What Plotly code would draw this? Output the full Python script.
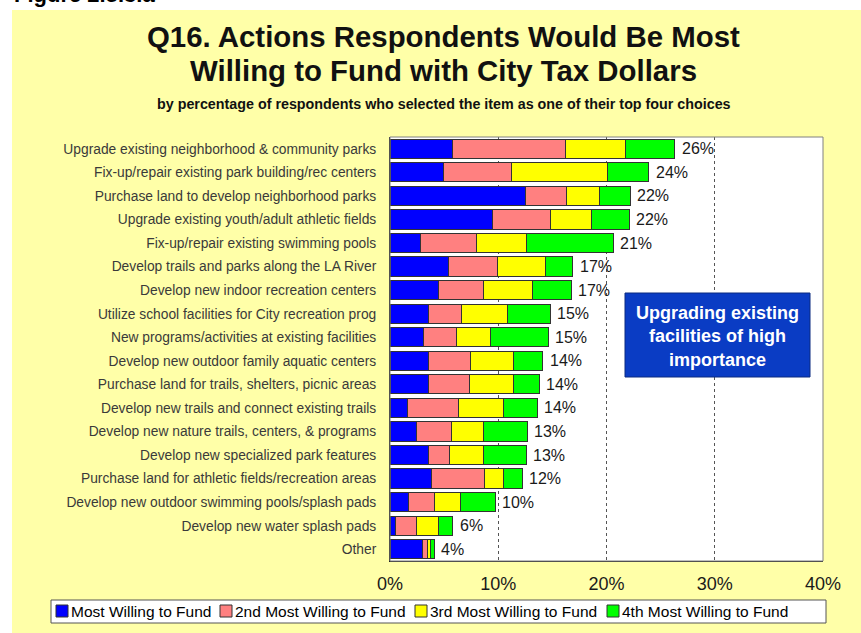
import plotly.graph_objects as go

# Survey actions, listed top to bottom
categories = [
    "Upgrade existing neighborhood & community parks",
    "Fix-up/repair existing park building/rec centers",
    "Purchase land to develop neighborhood parks",
    "Upgrade existing youth/adult athletic fields",
    "Fix-up/repair existing swimming pools",
    "Develop trails and parks along the LA River",
    "Develop new indoor recreation centers",
    "Utilize school facilities for City recreation prog",
    "New programs/activities at existing facilities",
    "Develop new outdoor family aquatic centers",
    "Purchase land for trails, shelters, picnic areas",
    "Develop new trails and connect existing trails",
    "Develop new nature trails, centers, & programs",
    "Develop new specialized park features",
    "Purchase land for athletic fields/recreation areas",
    "Develop new outdoor swimming pools/splash pads",
    "Develop new water splash pads",
    "Other",
]

# Percent of respondents choosing each action at each rank
most_willing = [5.8, 4.9, 12.5, 9.5, 2.8, 5.4, 4.45, 3.6, 3.1, 3.6, 3.55, 1.6, 2.45, 3.6, 3.8, 1.7, 0.55, 3.0]
second_willing = [10.4, 6.3, 3.8, 5.3, 5.2, 4.5, 4.15, 3.0, 3.05, 3.8, 3.75, 4.75, 3.25, 1.85, 4.9, 2.4, 1.9, 0.45]
third_willing = [5.6, 8.9, 3.05, 3.8, 4.6, 4.5, 4.6, 4.3, 3.15, 4.0, 4.1, 4.15, 2.95, 3.2, 1.8, 2.45, 2.0, 0.25]
fourth_willing = [4.5, 3.8, 2.85, 3.5, 8.0, 2.5, 3.55, 3.9, 5.3, 2.7, 2.4, 3.1, 4.05, 3.95, 1.7, 3.15, 1.35, 0.4]

series_names = [
    "Most Willing to Fund",
    "2nd Most Willing to Fund",
    "3rd Most Willing to Fund",
    "4th Most Willing to Fund",
]
series_values = [most_willing, second_willing, third_willing, fourth_willing]
series_colors = ["#0000FF", "#FF8080", "#FFFF00", "#00FF00"]

x_tick_values = [0, 10, 20, 30, 40]
x_tick_labels = ["0%", "10%", "20%", "30%", "40%"]

totals = [sum(vals) for vals in zip(*series_values)]
total_labels = [f"{round(t + 1e-9)}%" for t in totals]

# Page geometry (pixels)
W, H = 861, 633
PL, PR, PT, PB = 390, 823, 137, 561
FONT = "Liberation Sans, Arial, sans-serif"
BG_YELLOW = "#FFFFA8"


def xp(px):
    return (px - PL) / (PR - PL)


def yp(py):
    return (PB - py) / (PB - PT)


fig = go.Figure()
for name, vals, color in zip(series_names, series_values, series_colors):
    fig.add_trace(go.Bar(
        y=categories,
        x=vals,
        name=name,
        orientation="h",
        marker=dict(color=color, line=dict(color="#333333", width=1)),
        showlegend=False,
    ))

annotations = []

# Total percentage at the end of each bar
for cat, tot, lab in zip(categories, totals, total_labels):
    annotations.append(dict(
        x=tot, y=cat, xref="x", yref="y", text=lab, showarrow=False,
        xanchor="left", yanchor="middle", xshift=5,
        font=dict(family=FONT, size=16, color="#1a1a1a"),
    ))

# Titles
annotations += [
    dict(x=xp(443), y=yp(37), xref="paper", yref="paper",
         text="<b>Q16. Actions Respondents Would Be Most</b>", showarrow=False,
         xanchor="center", yanchor="middle",
         font=dict(family=FONT, size=29.4, color="#111111")),
    dict(x=xp(443), y=yp(70), xref="paper", yref="paper",
         text="<b>Willing to Fund with City Tax Dollars</b>", showarrow=False,
         xanchor="center", yanchor="middle",
         font=dict(family=FONT, size=29.4, color="#111111")),
    dict(x=xp(444), y=yp(104), xref="paper", yref="paper",
         text="<b>by percentage of respondents who selected the item as one of their top four choices</b>",
         showarrow=False, xanchor="center", yanchor="middle",
         font=dict(family=FONT, size=14.3, color="#111111")),
    dict(x=xp(12), y=yp(9), xref="paper", yref="paper",
         text="<b>Figure 2.5.3.a</b>", showarrow=False,
         xanchor="left", yanchor="bottom",
         font=dict(family=FONT, size=22, color="#000000")),
]

# Callout box text
annotations.append(dict(
    x=xp(717), y=yp(336), xref="paper", yref="paper",
    text="<b>Upgrading existing<br>facilities of high<br>importance</b>",
    showarrow=False, xanchor="center", yanchor="middle", align="center",
    font=dict(family=FONT, size=18, color="#FFFFFF"),
))

shapes = [
    # white strips outside the yellow panel
    dict(type="rect", xref="paper", yref="paper", x0=xp(0), x1=xp(W), y0=yp(0), y1=yp(10),
         fillcolor="white", line=dict(width=0), layer="below"),
    dict(type="rect", xref="paper", yref="paper", x0=xp(0), x1=xp(12), y0=yp(0), y1=yp(H),
         fillcolor="white", line=dict(width=0), layer="below"),
    # plot area border
    dict(type="rect", xref="paper", yref="paper", x0=0, x1=1, y0=0, y1=1,
         line=dict(color="#808080", width=1), fillcolor="rgba(0,0,0,0)", layer="above"),
    # callout box
    dict(type="rect", xref="paper", yref="paper", x0=xp(625), x1=xp(810), y0=yp(377), y1=yp(293),
         fillcolor="#0A3CC4", line=dict(color="#0a2a80", width=1), layer="above"),
    # legend frame
    dict(type="rect", xref="paper", yref="paper", x0=xp(51), x1=xp(826), y0=yp(623), y1=yp(600),
         fillcolor="white", line=dict(color="#555555", width=1), layer="above"),
]

# Legend entries
legend_square_x = [56, 220, 415, 607]
for sx, name, color in zip(legend_square_x, series_names, series_colors):
    shapes.append(dict(type="rect", xref="paper", yref="paper",
                       x0=xp(sx), x1=xp(sx + 12), y0=yp(617), y1=yp(605),
                       fillcolor=color, line=dict(color="#333333", width=1), layer="above"))
    annotations.append(dict(x=xp(sx + 13), y=yp(611.5), xref="paper", yref="paper",
                            text=name, showarrow=False, xanchor="left", yanchor="middle",
                            font=dict(family=FONT, size=15.5, color="#000000")))

fig.update_layout(
    width=W, height=H,
    margin=dict(l=PL, r=W - PR, t=PT, b=H - PB, pad=0),
    paper_bgcolor=BG_YELLOW,
    plot_bgcolor="white",
    barmode="stack",
    bargap=0.18,
    showlegend=False,
    annotations=annotations,
    shapes=shapes,
    xaxis=dict(
        range=[0, 40], tickvals=x_tick_values, ticktext=x_tick_labels,
        showgrid=True, gridcolor="#555555", griddash="dot", gridwidth=1,
        zeroline=False, showline=True, linecolor="#222222", linewidth=1,
        ticks="", ticklabelstandoff=6,
        tickfont=dict(family=FONT, size=18, color="#1a1a1a"),
        fixedrange=True,
    ),
    yaxis=dict(
        categoryorder="array", categoryarray=categories, autorange="reversed",
        showgrid=False, zeroline=False, showline=True, linecolor="#222222", linewidth=1,
        ticks="", ticklabelstandoff=10,
        tickfont=dict(family=FONT, size=13.8, color="#3a3a3a"),
        fixedrange=True,
    ),
)

fig.write_html("out.html")
